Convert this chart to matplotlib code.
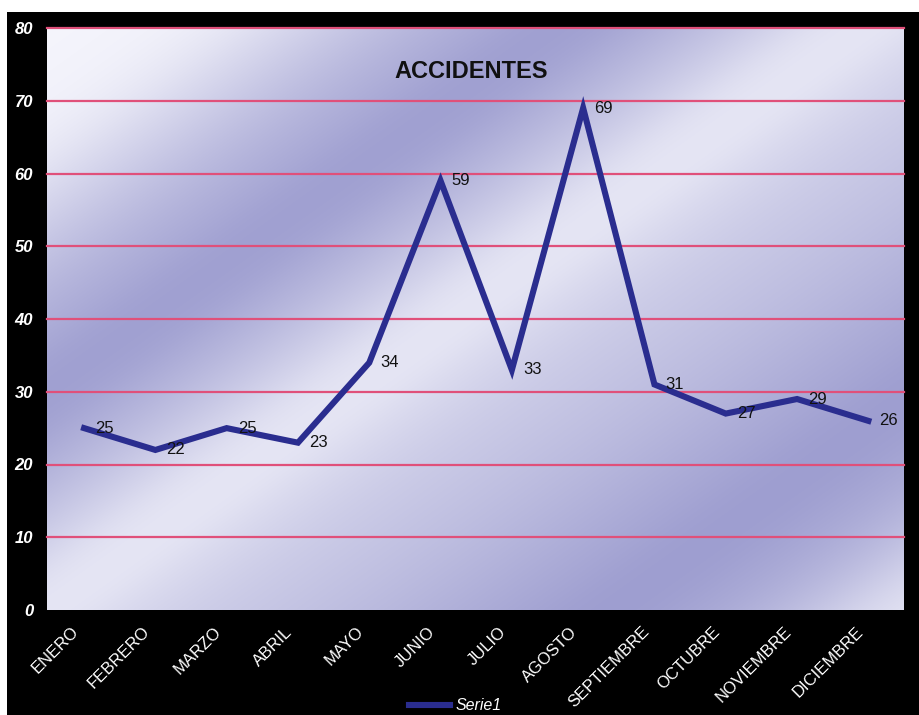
import numpy as np
import matplotlib
matplotlib.use("Agg")
import matplotlib.pyplot as plt
import matplotlib.transforms as mtransforms
from matplotlib.patches import Rectangle
from matplotlib.lines import Line2D

months = ['ENERO', 'FEBRERO', 'MARZO', 'ABRIL', 'MAYO', 'JUNIO', 'JULIO',
          'AGOSTO', 'SEPTIEMBRE', 'OCTUBRE', 'NOVIEMBRE', 'DICIEMBRE']
values = [25, 22, 25, 23, 34, 59, 33, 69, 31, 27, 29, 26]
yticks = [0, 10, 20, 30, 40, 50, 60, 70, 80]
title = 'ACCIDENTES'
series_name = 'Serie1'

plt.rcParams['font.family'] = ['Liberation Sans', 'DejaVu Sans']

W, H = 920, 715
fig = plt.figure(figsize=(W / 100, H / 100), dpi=100)
fig.patch.set_facecolor('white')
fig.add_artist(Rectangle((7 / W, 0), 1, 1 - 12 / H, transform=fig.transFigure,
                         facecolor='black', edgecolor='none', zorder=0))

L, R, T, B = 47, 904, 28, 610
ax = fig.add_axes([L / W, 1 - B / H, (R - L) / W, (B - T) / H])
ax.set_xlim(-0.52, 11.5)
ax.set_ylim(0, 80)

# background gradient (soft diagonal bands)
xs = np.arange(L, R)
ys = np.arange(T, B)
X, Y = np.meshgrid(xs, ys)
U = X + 1.4 * Y
stops_u = [0, 100, 230, 430, 600, 730, 890, 1030, 1230, 1470, 1610, 1760, 1900]
stops_d = [0.0, 0.0, 0.05, 0.55, 0.85, 0.55, 0.08, 0.35, 0.55, 0.85, 0.65, 0.15, 0.1]
ugrid = np.arange(0, 1900)
dgrid = np.interp(ugrid, stops_u, stops_d)
k = np.ones(121) / 121
dgrid = np.convolve(np.pad(dgrid, 60, mode='edge'), k, mode='valid')
D = np.interp(U, ugrid, dgrid)
light = np.array([245, 245, 252]) / 255
dark = np.array([138, 138, 198]) / 255
img = light[None, None, :] * (1 - D[..., None]) + dark[None, None, :] * D[..., None]
ax.imshow(img, extent=(-0.52, 11.5, 0, 80), aspect='auto', zorder=0,
          interpolation='bilinear')

for yv in yticks[1:]:
    ax.axhline(yv, color='#e0507a', lw=1.6, zorder=1, clip_on=False)

x = np.arange(len(months))
line, = ax.plot(x, values, color='#2a2d8f', lw=4.4, zorder=3,
                solid_joinstyle='miter')

for xi, v in zip(x, values):
    ax.annotate(str(v), (xi, v), xytext=(8, 0), textcoords='offset points',
                ha='left', va='center', fontsize=12, color='#111111', zorder=4)

ax.text(0.495, 0.925, title, transform=ax.transAxes, ha='center', va='center',
        fontsize=17, fontweight='bold', color='#111111')

for s in ax.spines.values():
    s.set_visible(False)
ax.tick_params(length=0)
ax.set_yticks(yticks)
ax.set_yticklabels([str(v) for v in yticks], color='white', fontsize=12,
                   fontstyle='italic', fontweight='bold')
ax.tick_params(axis='y', pad=10)
ax.set_xticks(x)
ax.set_xticklabels(months, rotation=45, ha='right', va='center',
                   rotation_mode='anchor', color='white', fontsize=12)
ax.tick_params(axis='x', pad=14)
offset = mtransforms.ScaledTranslation(-8 / 100, 0, fig.dpi_scale_trans)
for lab in ax.get_xticklabels():
    lab.set_transform(lab.get_transform() + offset)

handle = Line2D([], [], color='#2a2d8f', lw=4.4)
leg = fig.legend([handle], [series_name], loc='center',
                 bbox_to_anchor=(455 / W, 1 - 706 / H), frameon=False,
                 handlelength=2.6, handletextpad=0.3, fontsize=11.5)
for t in leg.get_texts():
    t.set_color('white')
    t.set_fontstyle('italic')

fig.savefig('out.png', dpi=100, facecolor=fig.get_facecolor())
